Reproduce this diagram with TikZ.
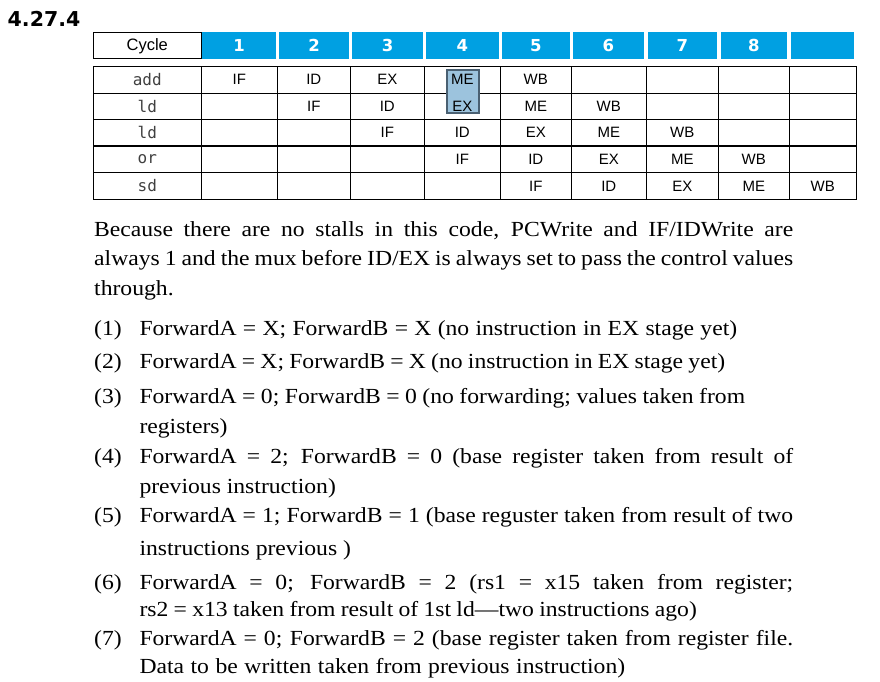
\documentclass[tikz,border=0pt]{standalone}
\usepackage{fontspec}
\setmainfont[FakeStretch=1.1]{Liberation Serif}
\setsansfont{Liberation Sans}
\setmonofont{DejaVu Sans Mono}
\newfontfamily\heavyfont{DejaVu Sans}[BoldFont={DejaVu Sans Bold}]
\definecolor{hdrblue}{HTML}{00A0E2}
\definecolor{hlfill}{HTML}{9CC3DD}
\definecolor{hlborder}{HTML}{4A6072}
\tikzset{
  grid/.style={line width=1.2pt, black},
  hdrcell/.style={fill=hdrblue, draw=none},
  hdrnum/.style={font=\heavyfont\bfseries\fontsize{16.5}{16.5}\selectfont, text=white, inner sep=0pt},
  stagetxt/.style={font=\sffamily\fontsize{15}{15}\selectfont, inner sep=0pt},
  instrtxt/.style={font=\ttfamily\fontsize{16}{16}\selectfont, text=black!75, inner sep=0pt},
  bodytxt/.style={font=\rmfamily\fontsize{21.5}{21.5}\selectfont, anchor=base west, inner sep=0pt},
  titletxt/.style={font=\heavyfont\bfseries\fontsize{20.5}{20.5}\selectfont, anchor=base west, inner sep=0pt},
}
\newcommand{\jline}[2]{\makebox[#1pt][s]{#2}}
\begin{document}
\begin{tikzpicture}[x=1pt,y=-1pt]
\useasboundingbox (0,0) rectangle (880,682);
% title
\node[titletxt] (title) at (7.5,26.7) {4.27.4};
% header
\draw[grid] (93.3,32.3) rectangle (201.3,58.7);
\node[stagetxt, font=\sffamily\fontsize{16.5}{16.5}\selectfont] (cyc) at (147.3,45.8) {Cycle};
\foreach \a/\b/\n [count=\i] in {202/276/1,279/349/2,352/423/3,426/498.7/4,502/569.7/5,573/643.7/6,648/716.7/7,721/786.7/8,791/853.7/{}}{
  \fill[hdrcell] (\a,32.3) rectangle (\b,58.7);
  \node[hdrnum] (h\i) at ({(\a+\b)/2},45.8) {\n};
}
% grid
\draw[grid] (93.3,66.3) rectangle (856.3,199.3);
\foreach \y in {93.3,119.3,146,172.7}{\draw[grid] (93.3,\y) -- (856.3,\y);}
\foreach \x in {201.3,277.3,350.3,424.3,500.3,571.3,646.3,718.3,789.3}{\draw[grid] (\x,66.3) -- (\x,199.3);}
% highlight fill
\fill[hlfill] (447.3,70.3) rectangle (478.7,112.7);
% instructions
\foreach \ins/\yc [count=\r] in {add/79.8,ld/106.3,ld/132.7,or/159.3,sd/186}{
  \node[instrtxt] (ins\r) at (147.3,\yc) {\ins};
}
% stages
\def\colc{{0,239.3,313.8,387.3,462.3,535.8,608.8,682.3,753.8,822.8}}
\foreach \yc/\s [count=\r] in {79.8/1,106.3/2,132.7/3,159.3/4,186/5}{
  \foreach \st [count=\k] in {IF,ID,EX,ME,WB}{
    \pgfmathsetmacro{\cx}{\colc[\s+\k-1]}
    \node[stagetxt] (s\r\k) at (\cx,\yc) {\st};
  }
}
\draw[hlborder, line width=2pt] (447.3,70.3) rectangle (478.7,112.7);
% paragraph
\node[bodytxt] (p1) at (94,236.7) {\jline{699}{Because there are no stalls in this code, PCWrite and IF/IDWrite are}};
\node[bodytxt] (p2) at (94,265) {\jline{699}{always 1 and the mux before ID/EX is always set to pass the control values}};
\node[bodytxt] (p3) at (94,295) {through.};
% items
\foreach \lab/\yb [count=\i] in {(1)/335,(2)/368,(3)/403,(4)/463,(5)/522,(6)/589,(7)/645.7}{
  \node[bodytxt] (lab\i) at (94,\yb) {\lab};
}
\node[bodytxt] (i1) at (139.3,335) {\jline{597.7}{ForwardA = X; ForwardB = X (no instruction in EX stage yet)}};
\node[bodytxt] (i2) at (139.3,368) {\jline{585.7}{ForwardA = X; ForwardB = X (no instruction in EX stage yet)}};
\node[bodytxt] (i3a) at (139.3,403) {\jline{605.7}{ForwardA = 0; ForwardB = 0 (no forwarding; values taken from}};
\node[bodytxt] (i3b) at (139.3,433) {registers)};
\node[bodytxt] (i4a) at (139.3,463) {\jline{653.7}{ForwardA = 2; ForwardB = 0 (base register taken from result of}};
\node[bodytxt] (i4b) at (139.3,493) {previous instruction)};
\node[bodytxt] (i5a) at (139.3,522) {\jline{653.7}{ForwardA = 1; ForwardB = 1 (base reguster taken from result of two}};
\node[bodytxt] (i5b) at (139.3,555.7) {instructions previous )};
\node[bodytxt] (i6a) at (139.3,589) {\jline{653.7}{ForwardA = 0; ForwardB = 2 (rs1 = x15 taken from register;}};
\node[bodytxt] (i6b) at (139.3,616.7) {\jline{557.4}{rs2 = x13 taken from result of 1st ld—two instructions ago)}};
\node[bodytxt] (i7a) at (139.3,645.7) {\jline{653.7}{ForwardA = 0; ForwardB = 2 (base register taken from register file.}};
\node[bodytxt] (i7b) at (139.3,673) {\jline{485.7}{Data to be written taken from previous instruction)}};
\end{tikzpicture}
\end{document}
